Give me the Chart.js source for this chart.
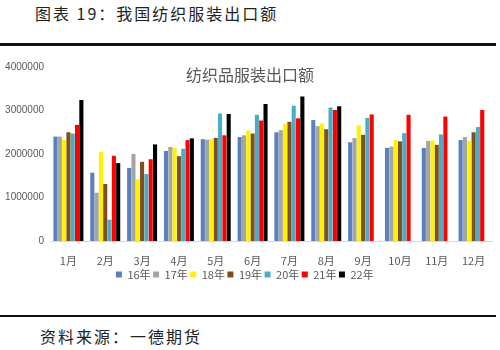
<!DOCTYPE html>
<html>
<head>
<meta charset="utf-8">
<script src="https://cdn.jsdelivr.net/npm/chart.js@4"></script>
<style>
  body { margin: 0; width: 500px; height: 350px; background: #fff; position: relative; overflow: hidden;
         font-family: "Noto Sans CJK SC", sans-serif; }
  .hd { position: absolute; left: 35px; top: 1px; font-size: 16px; letter-spacing: 2px; color: #222; }
  .ln1 { position: absolute; left: 0; top: 43px; width: 496px; height: 3px; background: #111; }
  .ln2 { position: absolute; left: 0; top: 315px; width: 496px; height: 2px; background: #111; }
  .src { position: absolute; left: 40px; top: 324px; font-size: 16px; letter-spacing: 2px; color: #222; }
  .ct { position: absolute; left: 0; width: 500px; text-align: center; top: 62px; font-size: 16px; color: #595959; }
  #wrap { position: absolute; left: 0; top: 50px; width: 500px; height: 240px; }
</style>
</head>
<body>
<div class="hd">图表 19：我国纺织服装出口额</div>
<div class="ln1"></div>
<div id="wrap"><canvas id="grafico"></canvas></div>
<div class="ct">纺织品服装出口额</div>
<div class="ln2"></div>
<div class="src">资料来源：一德期货</div>
<script>
const meses = ["1月", "2月", "3月", "4月", "5月", "6月", "7月", "8月", "9月", "10月", "11月", "12月"];
const anios = ["16年", "17年", "18年", "19年", "20年", "21年", "22年"];
const colores = ["#5B80BE", "#A5A5A5", "#FFF200", "#7F4F1F", "#4BACC6", "#FF0000", "#000000"];

const y16 = [2400000, 1570000, 1680000, 2070000, 2340000, 2390000, 2500000, 2780000, 2270000, 2140000, 2140000, 2320000];
const y17 = [2400000, 1110000, 2000000, 2160000, 2330000, 2430000, 2550000, 2640000, 2370000, 2170000, 2300000, 2390000];
const y18 = [2320000, 2050000, 1420000, 2140000, 2340000, 2540000, 2690000, 2700000, 2660000, 2320000, 2310000, 2300000];
const y19 = [2500000, 1310000, 1820000, 1950000, 2370000, 2470000, 2740000, 2570000, 2440000, 2290000, 2210000, 2500000];
const y20 = [2470000, 490000, 1540000, 2120000, 2930000, 2900000, 3110000, 3070000, 2830000, 2480000, 2450000, 2620000];
const y21 = [2670000, 1960000, 1880000, 2320000, 2430000, 2770000, 2820000, 3010000, 2910000, 2900000, 2860000, 3010000];
const y22 = [3240000, 1790000, 2220000, 2360000, 2920000, 3150000, 3320000, 3100000, null, null, null, null];

const series = [y16, y17, y18, y19, y20, y21, y22];

const ctx = document.getElementById("grafico").getContext("2d");
new Chart(ctx, {
  type: "bar",
  data: {
    labels: meses,
    datasets: series.map((d, i) => ({
      label: anios[i],
      data: d,
      backgroundColor: colores[i],
      borderWidth: 0
    }))
  },
  options: {
    responsive: true,
    maintainAspectRatio: false,
    animation: false,
    layout: { padding: { top: 17, right: 8, left: 0, bottom: 0 } },
    datasets: { bar: { categoryPercentage: 0.82, barPercentage: 0.95 } },
    scales: {
      x: {
        grid: { display: false, drawTicks: false },
        border: { color: "#D9D9D9" },
        ticks: { color: "#595959", font: { size: 11, family: "Noto Sans CJK SC", lineHeight: 1.2 }, padding: 13 },
        afterFit: s => { s.height = 28; }
      },
      y: {
        min: 0, max: 4000000,
        grid: { display: false, drawTicks: false },
        border: { display: false },
        ticks: { stepSize: 1000000, color: "#595959", font: { size: 10, family: "Liberation Sans" }, padding: 6,
                 callback: v => String(v) },
        afterFit: s => { s.width = 50; }
      }
    },
    plugins: {
      legend: {
        position: "bottom",
        labels: { boxWidth: 6, boxHeight: 6, padding: 0, color: "#595959",
                  font: { size: 11, family: "Noto Sans CJK SC", lineHeight: 1 },
                  generateLabels: c => Chart.defaults.plugins.legend.labels.generateLabels(c)
                    .map(l => ({ ...l, text: l.text + " " })) }
      },
      tooltip: { enabled: false }
    }
  }
});
</script>
</body>
</html>
